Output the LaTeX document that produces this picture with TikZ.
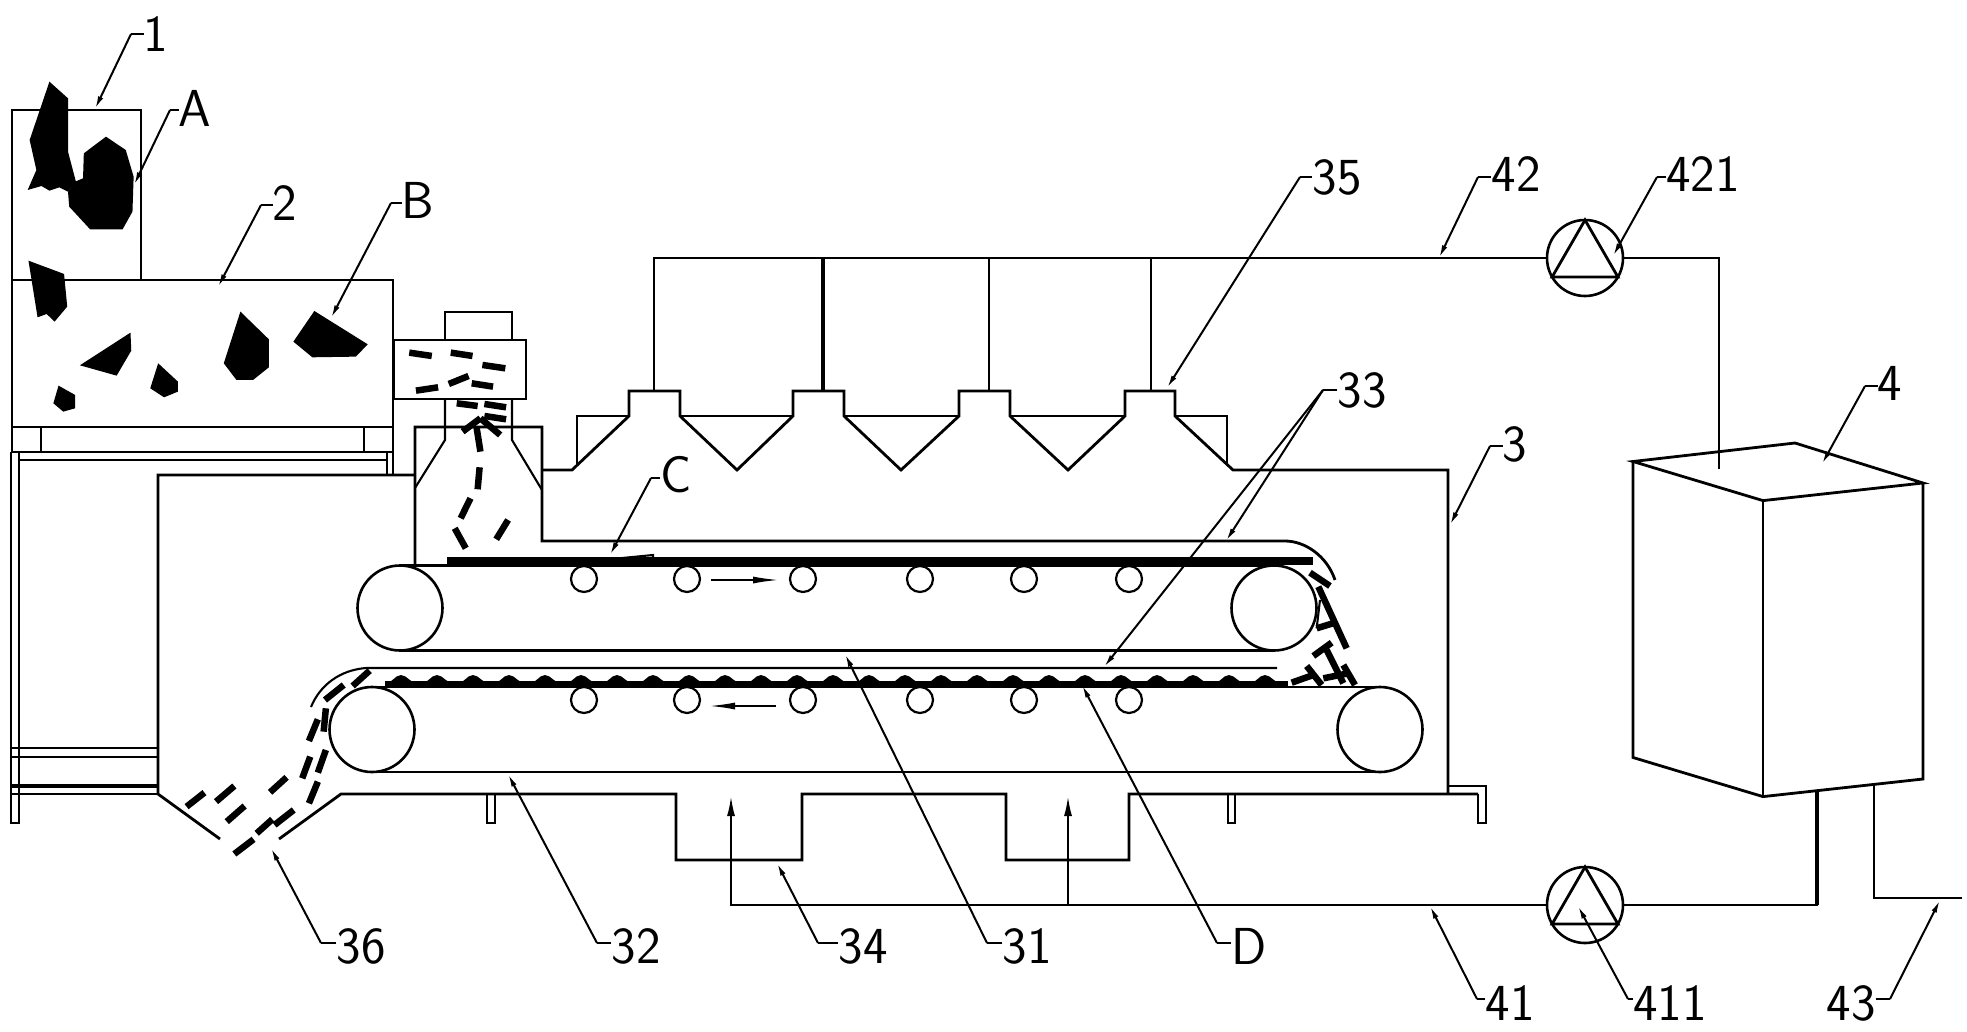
\documentclass[tikz,border=0pt]{standalone}
\usepackage{fontspec}
\usetikzlibrary{arrows.meta}

\tikzset{
  wall/.style={line width=2.8pt,line join=miter},
  thin wall/.style={line width=2.1pt},
  leader/.style={line width=2pt,-{Latex[length=13pt,width=5.5pt]}},
  chip/.style={line width=6.5pt},
}

\begin{document}
\begin{tikzpicture}[x=1pt,y=-1pt]

      \useasboundingbox (0,0) rectangle (1967,1031);

      % rollers
      \begin{scope}[every node/.style={circle,draw,line width=2.6pt,minimum size=85pt,inner sep=0pt,outer sep=0pt}]
        \node (r1) at (400,608) {};
        \node (r2) at (1274,608) {};
        \node (r3) at (372,729.5) {};
        \node (r4) at (1380,729.5) {};
      \end{scope}

      \begin{scope}[every node/.style={circle,draw,line width=2.2pt,minimum size=26pt,inner sep=0pt,outer sep=0pt}]
        \node (s1) at (584,579) {};
        \node (s2) at (687,579) {};
        \node (s3) at (803,579) {};
        \node (s4) at (920,579) {};
        \node (s5) at (1024,579) {};
        \node (s6) at (1129,579) {};
        \node (u1) at (584,700) {};
        \node (u2) at (687,700) {};
        \node (u3) at (803,700) {};
        \node (u4) at (920,700) {};
        \node (u5) at (1024,700) {};
        \node (u6) at (1129,700) {};
      \end{scope}

      % pumps
      \begin{scope}[every node/.style={circle,draw,line width=2.6pt,minimum size=76pt,inner sep=0pt,outer sep=0pt}]
        \node (p421) at (1585,258) {};
        \node (p411) at (1585,905) {};
      \end{scope}

      % belts
      \draw[wall] (r1.north) -- (r2.north);
      \draw[wall] (r1.south) -- (r2.south);
      \draw[wall] (r3.north) -- (r4.north);
      \draw[wall] (r3.south) -- (r4.south);

      % pump triangles
      \draw[wall] (p421.north) -- (p421.210) -- (p421.330) -- cycle;
      \draw[wall] (p411.north) -- (p411.210) -- (p411.330) -- cycle;

      % feed bin and crusher
      \draw[wall] (12,280) -- (12,110) -- (141,110) -- (141,280);
      \draw[wall] (12,280) rectangle (393,427);
      \draw[wall] (12,427) rectangle (393,452);
      \draw[thin wall] (41,427) -- (41,452);
      \draw[thin wall] (364,427) -- (364,452);
      \draw[thin wall] (19,460) -- (387,460);
      \draw[thin wall] (19,452) -- (19,475);
      \draw[thin wall] (387,452) -- (387,475);
      \draw[wall] (393,427) -- (393,475);

      % legs on the left
      \draw[thin wall] (11,452) -- (11,823) -- (19,823) -- (19,452);
      \draw[thin wall] (11,748) -- (158,748);
      \draw[wall] (11,757) -- (158,757);
      \draw[line width=3.4pt] (11,786) -- (158,786);
      \draw[thin wall] (11,794) -- (158,794);

      % screw housing
      \draw[wall] (394,340) rectangle (526,399);
      \draw[wall] (445,340) -- (445,312) -- (512,312) -- (512,340);
      \draw[thin wall] (445,399) -- (445,440) -- (415,488);
      \draw[thin wall] (512,399) -- (512,440) -- (542,490);

      % main casing
      \draw[wall] (415,565) -- (415,427) -- (542,427) -- (542,541) -- (1285,541)
        .. controls (1305,541) and (1327,556) .. (1335,580);
      \draw[wall] (542,470) -- (572,470) -- (629,416) -- (629,391) -- (680,391) -- (680,416)
        -- (737,470) -- (793,416) -- (793,391) -- (844,391) -- (844,416)
        -- (901,470) -- (959,416) -- (959,391) -- (1010,391) -- (1010,416)
        -- (1068,470) -- (1125,416) -- (1125,391) -- (1175,391) -- (1175,416)
        -- (1233,470) -- (1448,470) -- (1448,794);
      \draw[thin wall] (577,465) -- (577,416) -- (629,416);
      \draw[thin wall] (680,416) -- (793,416);
      \draw[thin wall] (844,416) -- (959,416);
      \draw[thin wall] (1010,416) -- (1125,416);
      \draw[thin wall] (1175,416) -- (1227,416) -- (1227,463);
      \draw[wall] (414,475) -- (158,475) -- (158,794) -- (220,839);
      \draw[wall] (279,839) -- (341,794) -- (676,794) -- (676,860) -- (802,860) -- (802,794)
        -- (1006,794) -- (1006,860) -- (1129,860) -- (1129,794) -- (1478,794);
      \draw[thin wall] (1448,786) -- (1486,786) -- (1486,823) -- (1478,823) -- (1478,794);
      \draw[thin wall] (487,794) -- (487,823) -- (495,823) -- (495,794);
      \draw[thin wall] (1228,794) -- (1228,823) -- (1235,823) -- (1235,794);

      % shield over lower belt
      \draw[thin wall] (1277,668) -- (366,668) .. controls (340,670) and (320,685) .. (311,707);

      % air pipes
      \coordinate (h1) at (654,391);
      \coordinate (h2) at (823,391);
      \coordinate (h3) at (989,391);
      \coordinate (h4) at (1151,391);
      \coordinate (j2) at (823,257);
      \coordinate (j3) at (989,257);
      \coordinate (j4) at (1151,257);
      \coordinate (b1) at (1719,469);
      \coordinate (b2) at (1817,791);
      \coordinate (b3) at (1874,785);
      \coordinate (b4) at (1962,898);
      \coordinate (n1) at (731,796);
      \coordinate (n2) at (1068,796);
      \draw[wall] (h1) |- (p421.west);
      \draw[line width=3.4pt] (h2) -- (j2);
      \draw[thin wall] (h3) -- (j3);
      \draw[thin wall] (h4) -- (j4);
      \draw[wall] (p421.east) -| (b1);
      \draw[thin wall] (p411.east) -| (b2);
      \draw[wall] (b3) |- (b4);
      \draw[thin wall,-{Latex[length=20pt,width=8pt]}] (p411.west) -| (n1);
      \draw[thin wall,-{Latex[length=20pt,width=8pt]}] (1068,905) -- (n2);
      \draw[line width=3.4pt] (1817,905) -- (b2);

      % dryer box
      \draw[wall] (1633,461.5) -- (1795,443) -- (1923,483) -- (1763,500.6) -- cycle;
      \draw[wall] (1633,461.5) -- (1633,757.5) -- (1763,796.6) -- (1923,779) -- (1923,483);
      \draw[wall] (1763,500.6) -- (1763,796.6);

      % belt direction
      \draw[thin wall,-{Latex[length=27pt,width=7pt]}] (711,580) -- (780,580);
      \draw[thin wall,-{Latex[length=27pt,width=7pt]}] (776,706) -- (708,706);

      % material on the belts
      \fill (447,556.5) rectangle (1313,565);
      \draw[thin wall] (612,559) -- (653,555) -- (653,563);
      \fill (385,681) rectangle (1288,687);
      \foreach \x in {385,421,457,493,529,565,601,637,673,709,745,781,817,853,889,925,961,997,1033,1069,1105,1141,1177,1213,1249} {
        \fill (\x,684) .. controls (\x+6,684) and (\x+10,675) .. (\x+16,675) .. controls (\x+22,675) and (\x+26,684) .. (\x+34,684) -- cycle;
      }

      % lumps in bin and crusher
      \begin{scope}[shift={(0,60)},x=0.3954pt,y=-0.3333pt]
        \fill (125,65) -- (172,115) -- (172,275) -- (192,365) -- (172,395) -- (150,382) -- (125,392) -- (105,378) -- (70,390) -- (92,330) -- (75,240) -- cycle;
        \fill (268,230) -- (318,270) -- (338,350) -- (335,455) -- (310,508) -- (228,508) -- (175,440) -- (172,395) -- (190,365) -- (210,355) -- (212,280) -- cycle;
        \fill (72,602) -- (162,642) -- (170,740) -- (138,785) -- (118,762) -- (95,772) -- cycle;
        \fill (330,818) -- (332,872) -- (295,947) -- (202,916) -- cycle;
        \fill (400,910) -- (450,965) -- (450,995) -- (415,1012) -- (380,985) -- cycle;
        \fill (148,977) -- (190,1005) -- (190,1045) -- (160,1055) -- (135,1030) -- cycle;
        \fill (608,755) -- (680,838) -- (680,922) -- (640,960) -- (598,960) -- (566,910) -- cycle;
        \fill (795,753) -- (930,853) -- (900,890) -- (790,892) -- (742,845) -- cycle;

        % chips in the screw and the drop
        \draw[chip] (1035,878) -- (1092,888);
        \draw[chip] (1140,878) -- (1195,888);
        \draw[chip] (1220,915) -- (1278,925);
        \draw[chip] (1052,992) -- (1108,982);
        \draw[chip] (1135,972) -- (1185,948);
        \draw[chip] (1193,970) -- (1247,980);
        \draw[chip] (1155,1030) -- (1208,1038);
        \draw[chip] (1225,1032) -- (1280,1042);
        \draw[chip] (1225,1068) -- (1280,1078);
        \draw[chip] (1170,1115) -- (1215,1075);
        \draw[chip] (1215,1075) -- (1265,1125);
        \draw[chip] (1205,1100) -- (1215,1175);
        \draw[chip] (1213,1222) -- (1208,1288);
        \draw[chip] (1190,1315) -- (1165,1375);
        \draw[chip] (1150,1405) -- (1178,1465);
        \draw[chip] (1285,1380) -- (1255,1438);
      \end{scope}

      % chips leaving the lower belt
      \begin{scope}[shift={(0,540)},x=0.4464pt,y=-0.3333pt]
        \draw[chip] (418,800) -- (458,758);
        \draw[chip] (484,785) -- (525,738);
        \draw[chip] (508,845) -- (548,798);
        \draw[chip] (605,757) -- (642,712);
        \draw[chip] (575,880) -- (610,838);
        \draw[chip] (615,855) -- (658,810);
        \draw[chip] (525,942) -- (568,898);
        \draw[chip] (692,790) -- (712,725);
        \draw[chip] (712,698) -- (730,630);
        \draw[chip] (677,715) -- (695,650);
        \draw[chip] (692,603) -- (712,538);
        \draw[chip] (725,575) -- (730,505);
        \draw[chip] (728,480) -- (770,435);
        \draw[chip] (790,438) -- (828,392);
      \end{scope}

      % chips falling between the belts
      \begin{scope}[shift={(1150,500)},x=0.3333pt,y=-0.3333pt]
        \draw[chip] (480,218) -- (540,258);
        \draw[chip] (505,260) -- (590,445);
        \draw[chip] (500,385) -- (555,368);
        \draw[thin wall] (510,300) -- (500,385);
        \draw[chip] (490,468) -- (545,428);
        \draw[chip] (530,450) -- (580,550);
        \draw[chip] (520,535) -- (595,520);
        \draw[chip] (470,498) -- (515,555);
        \draw[chip] (580,495) -- (615,555);
        \draw[chip] (425,548) -- (490,525);
      \end{scope}

      % labels
      \begin{scope}[every node/.style={font=\sffamily\fontsize{52}{52}\selectfont,inner sep=0pt}]
        \node (t1) at (156,34) {1};
        \node (tA) at (195,108) {A};
        \node (t2) at (285,203) {2};
        \node (tB) at (418,200) {B};
        \node (tC) at (676,475) {C};
        \node (t35) at (1337,177) {35};
        \node (t42) at (1516,174) {42};
        \node (t421) at (1703,174) {421};
        \node (t33) at (1362,390) {33};
        \node (t3) at (1515,444) {3};
        \node (t4) at (1890,383) {4};
        \node (t36) at (361,946) {36};
        \node (t32) at (636,946) {32};
        \node (t34) at (863,946) {34};
        \node (t31) at (1027,946) {31};
        \node (tD) at (1249,946) {D};
        \node (t41) at (1510,1003) {41};
        \node (t411) at (1670,1003) {411};
        \node (t43) at (1851,1003) {43};
      \end{scope}

      % leader knees
      \coordinate (k1) at (131,34);
      \coordinate (kA) at (170,110);
      \coordinate (k2) at (261,205);
      \coordinate (kB) at (391,203);
      \coordinate (kC) at (651,478);
      \coordinate (k35) at (1300,177);
      \coordinate (k42) at (1478,177);
      \coordinate (k421) at (1657,177);
      \coordinate (k33) at (1323,390);
      \coordinate (k3) at (1490,446);
      \coordinate (k4) at (1865,386);
      \coordinate (k36) at (321,943);
      \coordinate (k32) at (597,943);
      \coordinate (k34) at (818,943);
      \coordinate (k31) at (987,943);
      \coordinate (kD) at (1217,943);
      \coordinate (k41) at (1477,999);
      \coordinate (k411) at (1628,999);
      \coordinate (k43) at (1890,999);

      \begin{scope}[every edge/.style={draw,thin wall}]
        \path (t1.west |- k1) edge (k1);
        \path (tA.west |- kA) edge (kA);
        \path (t2.west |- k2) edge (k2);
        \path (tB.west |- kB) edge (kB);
        \path (tC.west |- kC) edge (kC);
        \path (t35.west |- k35) edge (k35);
        \path (t42.west |- k42) edge (k42);
        \path (t421.west |- k421) edge (k421);
        \path (t33.west |- k33) edge (k33);
        \path (t3.west |- k3) edge (k3);
        \path (t4.west |- k4) edge (k4);
        \path (t36.west |- k36) edge (k36);
        \path (t32.west |- k32) edge (k32);
        \path (t34.west |- k34) edge (k34);
        \path (t31.west |- k31) edge (k31);
        \path (tD.west |- kD) edge (kD);
        \path (t41.west |- k41) edge (k41);
        \path (t411.west |- k411) edge (k411);
        \path (t43.east |- k43) edge (k43);
      \end{scope}

      \begin{scope}[every edge/.style={draw,leader}]
        \path (k1) edge (95,109);
        \path (kA) edge (134,185);
        \path (k2) edge (218,287);
        \path (kB) edge (331,318);
        \path (kC) edge (610,555);
        \path (k35) edge (1167,388);
        \path (k42) edge (1439,258);
        \path (k421) edge (1613,256);
        \path (k33) edge (1226,541);
        \path (k33) edge (1104,667);
        \path (k3) edge (1450,525);
        \path (k4) edge (1822,464);
        \path (k36) edge (271,848);
        \path (k32) edge (508,774);
        \path (k34) edge (777,863);
        \path (k31) edge (845,654);
        \path (kD) edge (1082,685);
        \path (k41) edge (1430,906);
        \path (k411) edge (1578,906);
        \path (k43) edge (1940,900);
      \end{scope}

    \end{tikzpicture}
\end{document}
